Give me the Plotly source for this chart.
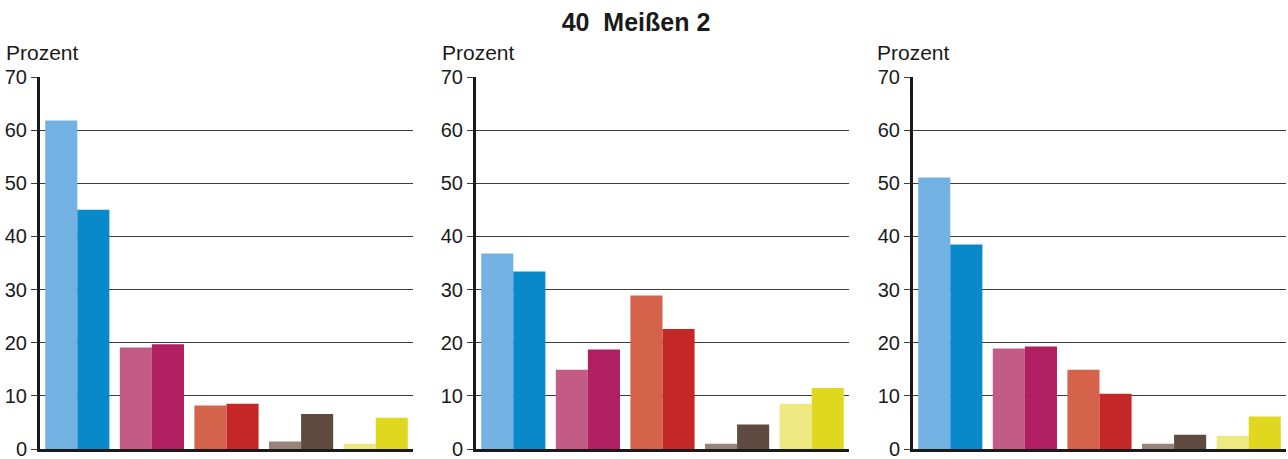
import plotly.graph_objects as go

categories = ["A", "B", "C", "D", "E"]
# panel values: first (light) bar and second (dark) bar per category
p1_first = [61.8, 19.1, 8.2, 1.4, 1.0]
p1_second = [45.0, 19.7, 8.5, 6.6, 5.9]
p2_first = [36.8, 14.9, 28.9, 1.0, 8.5]
p2_second = [33.4, 18.7, 22.6, 4.6, 11.5]
p3_first = [51.1, 18.9, 14.9, 1.0, 2.5]
p3_second = [38.5, 19.3, 10.4, 2.7, 6.1]

light_colors = ["#72b2e2", "#c35c84", "#d5624b", "#9a8479", "#eee880"]
dark_colors = ["#0a89ca", "#b01f62", "#c32826", "#5e4a3f", "#e0d81e"]

title_text = "40  Meißen 2"
y_label = "Prozent"
y_ticks = [0, 10, 20, 30, 40, 50, 60, 70]

panels = [(p1_first, p1_second), (p2_first, p2_second), (p3_first, p3_second)]
W, H = 1288, 459
T, B = 77, 10
domains = [(40 / W, 413 / W), (476 / W, 849 / W), (913 / W, 1286 / W)]
label_x = [4, 440, 875]

fig = go.Figure()
font = "Liberation Sans, Arial, sans-serif"

for i, (first, second) in enumerate(panels):
    sfx = "" if i == 0 else str(i + 1)
    fig.add_trace(go.Bar(x=categories, y=first, marker=dict(color=light_colors, line=dict(width=0)),
                         xaxis="x" + sfx, yaxis="y" + sfx, showlegend=False))
    fig.add_trace(go.Bar(x=categories, y=second, marker=dict(color=dark_colors, line=dict(width=0)),
                         xaxis="x" + sfx, yaxis="y" + sfx, showlegend=False))
    fig.layout["xaxis" + sfx] = dict(
        domain=list(domains[i]), anchor="y" + sfx, range=[-0.5, 4.5],
        showticklabels=False, ticks="", showgrid=False, zeroline=False,
        showline=True, linecolor="#1a1a1a", linewidth=3, fixedrange=True,
    )
    fig.layout["yaxis" + sfx] = dict(
        domain=[0, 1], anchor="x" + sfx, range=[0, 70], tickvals=y_ticks,
        showgrid=True, gridcolor="#3c3c3c", gridwidth=1.2, zeroline=False,
        showline=True, linecolor="#1a1a1a", linewidth=3,
        ticks="outside", ticklen=6, tickcolor="#3c3c3c", tickwidth=1.2,
        ticklabeloverflow="allow",
        tickfont=dict(size=20, color="#1a1a1a", family=font), fixedrange=True,
    )
    fig.add_annotation(text=y_label, x=label_x[i] / W, y=(H - B - 52) / (H - T - B),
                       xref="paper", yref="paper",
                       xanchor="left", yanchor="middle", showarrow=False,
                       font=dict(size=21, color="#1a1a1a", family=font))

fig.update_layout(
    width=W, height=H,
    margin=dict(l=0, r=0, t=T, b=B),
    plot_bgcolor="white", paper_bgcolor="white",
    barmode="group", bargap=0.14, bargroupgap=0,
    title=dict(text="<b>" + title_text + "</b>", x=636 / W, xanchor="center", y=1 - 22 / H, yanchor="middle",
               font=dict(size=25, color="#1a1a1a", family=font)),
)

fig.write_html("out.html", config={"displayModeBar": False},
               post_script="document.body.style.margin='0';document.body.style.overflow='hidden';")
